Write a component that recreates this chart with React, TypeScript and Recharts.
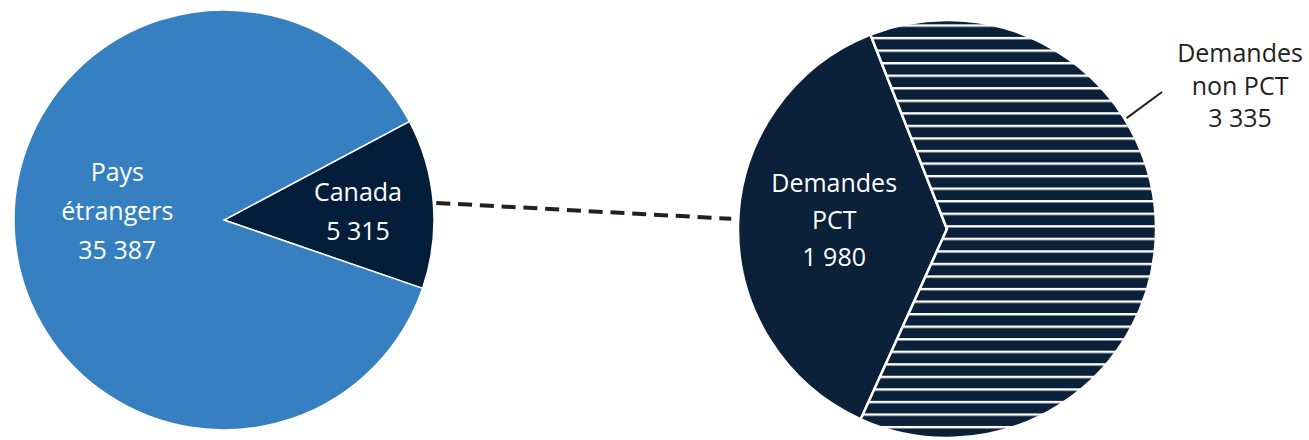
import { PieChart, Pie, Cell } from "recharts";

const originNames = ["Canada", "Pays étrangers"];
const originValues = [5315, 35387];
const originLabels = [["Canada", "5 315"], ["Pays", "étrangers", "35 387"]];

const routeNames = ["Demandes PCT", "Demandes non PCT"];
const routeValues = [1980, 3335];
const routeLabels = [["Demandes", "PCT", "1 980"], ["Demandes", "non PCT", "3 335"]];

const LIGHT_BLUE = "#367fc0";
const NAVY = "#031e3b";
const NAVY_2 = "#0b2039";
const FONT = "'Open Sans', sans-serif";

const originData = originNames.map((name, i) => ({ name, value: originValues[i] }));
const routeData = routeNames.map((name, i) => ({ name, value: routeValues[i] }));

const LEFT = { cx: 224, cy: 220, r: 210 };
const RIGHT = { cx: 947, cy: 229, r: 209 };

const RAD = Math.PI / 180;
const polar = (cx: number, cy: number, r: number, deg: number) => ({
  x: cx + r * Math.cos(deg * RAD),
  y: cy - r * Math.sin(deg * RAD),
});

function Lines({ x, y, lines, gap, color }: { x: number; y: number; lines: string[]; gap: number; color: string }) {
  const top = y - ((lines.length - 1) * gap) / 2;
  return (
    <text textAnchor="middle" fill={color} fontSize={25} fontFamily={FONT}>
      {lines.map((l, i) => (
        <tspan key={i} x={x} y={top + i * gap} dominantBaseline="central">
          {l}
        </tspan>
      ))}
    </text>
  );
}

// eslint-disable-next-line @typescript-eslint/no-explicit-any
const originLabel = (p: any) => {
  if (p.index === 0) {
    const pt = polar(p.cx, p.cy, p.outerRadius * 0.64, p.midAngle);
    return <Lines x={pt.x} y={pt.y + 1} lines={originLabels[0]} gap={38.5} color="#ffffff" />;
  }
  const pt = polar(p.cx, p.cy, p.outerRadius * 0.5, p.midAngle);
  return <Lines x={pt.x - 2} y={pt.y - 18} lines={originLabels[1]} gap={39} color="#ffffff" />;
};

// eslint-disable-next-line @typescript-eslint/no-explicit-any
const routeLabel = (p: any) => {
  if (p.index === 0) {
    const pt = polar(p.cx, p.cy, p.outerRadius * 0.54, p.midAngle);
    return <Lines x={pt.x} y={pt.y - 7} lines={routeLabels[0]} gap={37} color="#ffffff" />;
  }
  const a = polar(p.cx, p.cy, p.outerRadius + 2, 31.7);
  const b = polar(p.cx, p.cy, p.outerRadius + 46, 32.5);
  return (
    <g>
      <line x1={a.x} y1={a.y} x2={b.x} y2={b.y} stroke="#231f20" strokeWidth={2} />
      <Lines x={b.x + 78} y={b.y - 7} lines={routeLabels[1]} gap={32.5} color="#231f20" />
    </g>
  );
};

export default function App() {
  const from = polar(LEFT.cx, LEFT.cy, LEFT.r + 3, 4.6);
  const to = polar(RIGHT.cx, RIGHT.cy, RIGHT.r + 7, 177.3);
  return (
    <div style={{ position: "absolute", left: 0, top: 0 }}>
      <PieChart width={1309} height={440} margin={{ top: 0, right: 0, bottom: 0, left: 0 }}>
        <defs>
          <pattern id="hstripes" patternUnits="userSpaceOnUse" width={20} height={12.55} y={11.8}>
            <rect width={20} height={12.55} fill={NAVY_2} />
            <rect width={20} height={2.4} fill="#ffffff" />
          </pattern>
        </defs>
        <line
          x1={from.x}
          y1={from.y}
          x2={to.x}
          y2={to.y}
          stroke="#231f20"
          strokeWidth={4}
          strokeDasharray="14 7.8"
        />
        <Pie
          data={originData}
          dataKey="value"
          nameKey="name"
          cx={LEFT.cx}
          cy={LEFT.cy}
          outerRadius={LEFT.r}
          startAngle={28}
          endAngle={-332}
          stroke="#ffffff"
          strokeWidth={1.5}
          label={originLabel}
          labelLine={false}
          isAnimationActive={false}
        >
          <Cell fill={NAVY} />
          <Cell fill={LIGHT_BLUE} />
        </Pie>
        <Pie
          data={routeData}
          dataKey="value"
          nameKey="name"
          cx={RIGHT.cx}
          cy={RIGHT.cy}
          outerRadius={RIGHT.r}
          startAngle={111.5}
          endAngle={471.5}
          stroke="#ffffff"
          strokeWidth={2.5}
          label={routeLabel}
          labelLine={false}
          isAnimationActive={false}
        >
          <Cell fill={NAVY_2} />
          <Cell fill="url(#hstripes)" />
        </Pie>
      </PieChart>
    </div>
  );
}
